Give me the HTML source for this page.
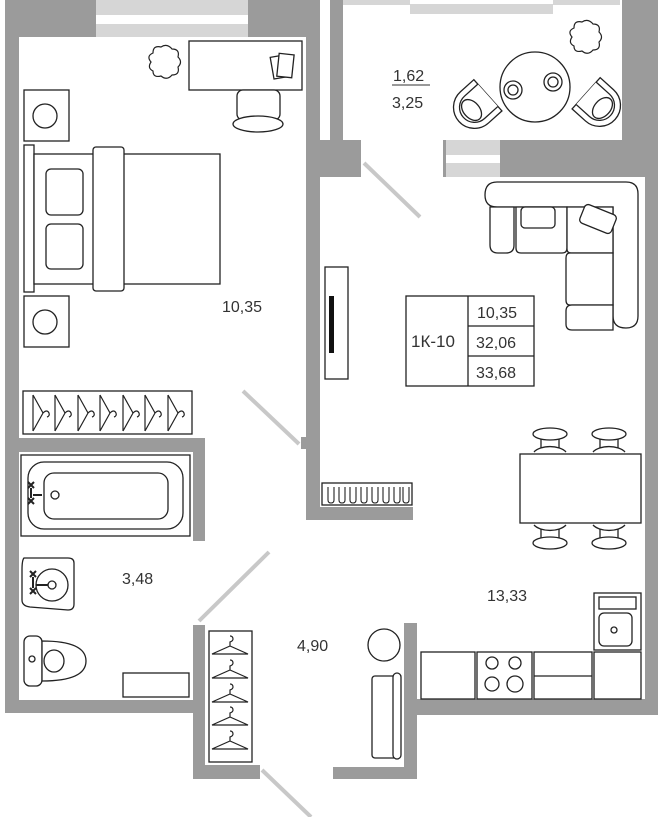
<!DOCTYPE html>
<html><head><meta charset="utf-8"><style>
html,body{margin:0;padding:0;background:#fff;}
svg{display:block;}
text{font-family:"Liberation Sans",Arial,sans-serif;fill:#333;}
</style></head><body>
<svg width="660" height="817" viewBox="0 0 660 817" xmlns="http://www.w3.org/2000/svg">
<defs>
<g id="hh" fill="none" stroke="#222" stroke-width="1.2">
<path d="M0,0 L0,36 M0,0 L10,18 L0,36 M10,18 q4,-4 6,0 q1,3 -2,4"/>
</g>
<g id="hv" fill="none" stroke="#222" stroke-width="1.2">
<path d="M-18,12 L18,12 L0,4 Z M0,4 L0,0 q3,-1 3,-3 q0,-3 -3,-3"/>
</g>
<g id="ch" fill="#fff" stroke="#222" stroke-width="1.3">
<rect x="-9" y="-4" width="18" height="12"/>
<ellipse cx="0" cy="-6" rx="17" ry="6"/>
<path d="M-16,12 A18,10 0 0 1 16,12"/>
</g>
<g id="cloud" fill="#fff" stroke="#222" stroke-width="1.2">
<path d="M8,8 q0,-8 8,-6 q6,-4 11,2 q8,0 6,8 q5,5 0,10 q2,8 -6,8 q-5,6 -11,1 q-8,2 -8,-5 q-6,-3 -2,-9 q-5,-6 2,-9z"/>
</g>
<g id="arm" fill="#fff" stroke="#222" stroke-width="1.3">
<path d="M-21,-16 V2 A21,21 0 0 0 21,2 V-16 Z"/>
<path d="M-15,-16 V2 A15,15 0 0 0 15,2 V-16"/>
<ellipse cx="0" cy="6" rx="12" ry="8"/>
</g>
</defs>

<!-- walls -->
<g fill="#9b9b9b">
<rect x="5" y="0" width="91" height="37"/>
<rect x="248" y="0" width="72" height="37"/>
<rect x="5" y="0" width="14" height="713"/>
<rect x="306" y="0" width="14" height="520"/>
<rect x="306" y="140" width="55" height="37"/>
<rect x="330" y="0" width="13" height="177"/>
<rect x="301" y="437" width="6" height="12"/>
<rect x="306" y="507" width="107" height="13"/>
<rect x="5" y="438" width="200" height="14"/>
<rect x="193" y="438" width="12" height="103"/>
<rect x="5" y="700" width="200" height="13"/>
<rect x="193" y="625" width="12" height="154"/>
<rect x="193" y="765" width="67" height="14"/>
<rect x="404" y="623" width="13" height="156"/>
<rect x="333" y="767" width="84" height="12"/>
<rect x="404" y="699" width="254" height="16"/>
<rect x="645" y="0" width="13" height="715"/>
<rect x="622" y="0" width="36" height="140"/>
<rect x="500" y="140" width="158" height="37"/>
<rect x="443" y="140" width="3" height="37"/>
</g>
<!-- windows -->
<rect x="96" y="0" width="152" height="37" fill="#d6d6d6"/>
<rect x="96" y="15" width="152" height="9" fill="#fff"/>
<rect x="446" y="140" width="54" height="37" fill="#d6d6d6"/>
<rect x="446" y="155" width="54" height="8" fill="#fff"/>
<path d="M343,0 H620 V5 H553 V14 H410 V5 H343 Z" fill="#d6d6d6"/>
<rect x="410" y="0" width="143" height="4" fill="#fff"/>
<!-- door leaves -->
<g stroke="#c8c8c8" stroke-width="4">
<line x1="364" y1="163" x2="420" y2="217"/>
<line x1="243" y1="391" x2="299" y2="444"/>
<line x1="199" y1="621" x2="269" y2="552"/>
<line x1="262" y1="770" x2="311" y2="817"/>
</g>

<g fill="#fff" stroke="#222" stroke-width="1.3">
<!-- bedroom -->
<use href="#cloud" x="145" y="45"/>
<rect x="189" y="41" width="113" height="49"/>
<rect x="272" y="56" width="14" height="22" transform="rotate(-10 279 67)"/>
<rect x="278" y="54" width="15" height="23" transform="rotate(6 285 65)"/>
<rect x="237" y="90" width="43" height="30" rx="6"/>
<ellipse cx="258" cy="124" rx="25" ry="8"/>
<rect x="24" y="90" width="45" height="51"/>
<circle cx="45" cy="116" r="12"/>
<rect x="24" y="145" width="10" height="147"/>
<rect x="34" y="154" width="186" height="130"/>
<rect x="93" y="147" width="31" height="144" rx="3"/>
<rect x="46" y="169" width="37" height="46" rx="5"/>
<rect x="46" y="224" width="37" height="45" rx="5"/>
<rect x="24" y="296" width="45" height="51"/>
<circle cx="45" cy="322" r="12"/>
<rect x="23" y="391" width="169" height="43"/>
</g>
<use href="#hh" x="33" y="395"/><use href="#hh" x="55" y="395"/><use href="#hh" x="78" y="395"/><use href="#hh" x="100" y="395"/><use href="#hh" x="123" y="395"/><use href="#hh" x="145" y="395"/><use href="#hh" x="168" y="395"/>

<g fill="#fff" stroke="#222" stroke-width="1.3">
<!-- bathroom -->
<rect x="21" y="455" width="169" height="81"/>
<rect x="28" y="462" width="155" height="67" rx="16"/>
<rect x="44" y="473" width="124" height="46" rx="10"/>
<circle cx="55" cy="495" r="4"/>
<path d="M24,558 Q22,560 22,570 V600 Q22,606 30,607 L68,610 Q74,610 74,604 V563 Q74,558 68,558 Z"/>
<circle cx="52" cy="585" r="16"/>
<circle cx="52" cy="585" r="4"/>
<rect x="24" y="636" width="18" height="50" rx="6"/>
<circle cx="32" cy="659" r="3"/>
<path d="M42,641 Q86,641 86,661 Q86,681 42,681 Z"/>
<ellipse cx="54" cy="661" rx="10" ry="11"/>
<rect x="123" y="673" width="66" height="24"/>
<!-- closet -->
<rect x="209" y="631" width="43" height="131"/>
</g>
<g stroke="#222" stroke-width="2" fill="none">
<path d="M28,482 l6,6 m0,-6 l-6,6 M28,498 l6,6 m0,-6 l-6,6 M31,488 v10 M33,495 h9"/>
<path d="M30,571 l6,6 m0,-6 l-6,6 M30,588 l6,6 m0,-6 l-6,6 M33,577 v11 M36,585 h12"/>
<path d="M623,618 l6,6 m0,-6 l-6,6 M623,634 l6,6 m0,-6 l-6,6 M626,624 v10 M616,629 h10"/>
</g>
<use href="#hv" x="230" y="642"/><use href="#hv" x="230" y="666"/><use href="#hv" x="230" y="690"/><use href="#hv" x="230" y="713"/><use href="#hv" x="230" y="737"/>

<g fill="#fff" stroke="#222" stroke-width="1.3">
<!-- hall -->
<circle cx="384" cy="645" r="16"/>
<rect x="372" y="676" width="26" height="82" rx="3"/>
<rect x="393" y="673" width="8" height="86" rx="4"/>
<!-- kitchen -->
<rect x="421" y="652" width="54" height="47"/>
<rect x="477" y="652" width="55" height="47"/>
<circle cx="492" cy="663" r="6"/><circle cx="515" cy="663" r="6"/>
<circle cx="492" cy="684" r="7"/><circle cx="515" cy="684" r="8"/>
<rect x="534" y="652" width="58" height="47"/>
<line x1="534" y1="676" x2="592" y2="676"/>
<rect x="594" y="652" width="47" height="47"/>
<rect x="594" y="593" width="47" height="57"/>
<rect x="599" y="597" width="37" height="12"/>
<rect x="599" y="613" width="33" height="33" rx="5"/>
<circle cx="614" cy="630" r="3"/>
<!-- dining -->
<use href="#ch" x="550" y="440"/>
<use href="#ch" x="609" y="440"/>
<use href="#ch" x="550" y="537" transform="rotate(180 550 537)"/>
<use href="#ch" x="609" y="537" transform="rotate(180 609 537)"/>
<rect x="520" y="454" width="121" height="69"/>
<!-- radiator -->
<rect x="322" y="483" width="90" height="22"/>
<!-- tv -->
<rect x="325" y="267" width="23" height="112"/>
<!-- info table -->
<rect x="406" y="296" width="128" height="90"/>
<line x1="468" y1="296" x2="468" y2="386"/>
<line x1="468" y1="326" x2="534" y2="326"/>
<line x1="468" y1="356" x2="534" y2="356"/>
<!-- sofa -->
<path d="M497,182 H626 Q638,182 638,194 V316 Q638,328 626,328 Q613,328 613,316 V207 H497 Q485,207 485,195 Q485,182 497,182 Z"/>
<path d="M490,207 H514 V245 Q514,253 506,253 H498 Q490,253 490,245 Z"/>
<path d="M516,207 H567 V248 Q567,253 562,253 H521 Q516,253 516,248 Z"/>
<path d="M567,207 H613 V253 H571 Q567,253 567,249 Z"/>
<rect x="521" y="207" width="34" height="21" rx="4"/>
<rect x="581" y="209" width="34" height="20" rx="4" transform="rotate(22 598 219)"/>
<path d="M570,253 H613 V305 H570 Q566,305 566,300 V258 Q566,253 570,253 Z"/>
<path d="M572,305 H613 V330 H572 Q566,330 566,324 V311 Q566,305 572,305 Z"/>
<!-- balcony -->
<circle cx="535" cy="87" r="35"/>
<circle cx="513" cy="90" r="9"/><circle cx="513" cy="90" r="5"/>
<circle cx="553" cy="82" r="9"/><circle cx="553" cy="82" r="5"/>
</g>
<use href="#arm" transform="translate(476,106) rotate(48)"/>
<use href="#arm" transform="translate(598,104) rotate(-48)"/>
<use href="#cloud" x="566" y="20"/>
<rect x="329" y="296" width="5" height="57" fill="#111"/>
<g fill="none" stroke="#222" stroke-width="1.1">
<path d="M328,487 v13 q0,3 3,3 q3,0 3,-3 v-13 M339,487 v13 q0,3 3,3 q3,0 3,-3 v-13 M350,487 v13 q0,3 3,3 q3,0 3,-3 v-13 M361,487 v13 q0,3 3,3 q3,0 3,-3 v-13 M372,487 v13 q0,3 3,3 q3,0 3,-3 v-13 M383,487 v13 q0,3 3,3 q3,0 3,-3 v-13 M394,487 v13 q0,3 3,3 q3,0 3,-3 v-13 M403,487 v13 q0,3 3,3 q3,0 3,-3 v-13"/>
</g>

<!-- labels -->
<g font-size="16">
<text x="222" y="312">10,35</text>
<text x="122" y="584">3,48</text>
<text x="297" y="651">4,90</text>
<text x="487" y="601">13,33</text>
<text x="393" y="81">1,62</text>
<line x1="392" y1="85" x2="430" y2="85" stroke="#333" stroke-width="1"/>
<text x="392" y="108">3,25</text>
<text x="411" y="347" font-size="17">1К-10</text>
<text x="477" y="318">10,35</text>
<text x="476" y="348">32,06</text>
<text x="476" y="378">33,68</text>
</g>
</svg>
</body></html>
